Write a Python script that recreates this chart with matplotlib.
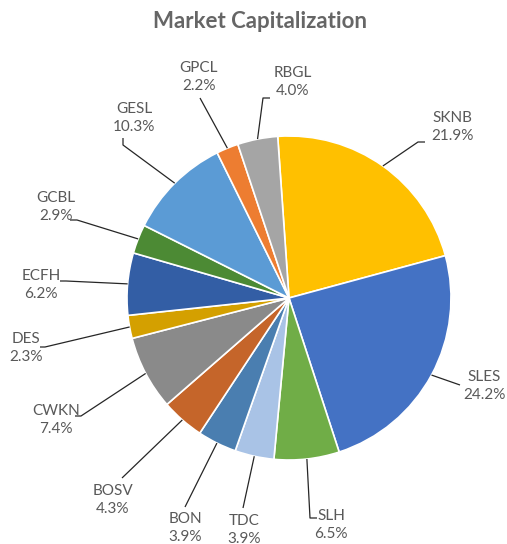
import numpy as np
import matplotlib
matplotlib.use("Agg")
from matplotlib import pyplot as plt

# data
names = ["SKNB", "SLES", "SLH", "TDC", "BON", "BOSV", "CWKN", "DES",
         "ECFH", "GCBL", "GESL", "GPCL", "RBGL"]
shares = [21.9, 24.2, 6.5, 3.9, 3.9, 4.3, 7.4, 2.3, 6.2, 2.9, 10.3, 2.2, 4.0]
colors = ["#FFC000", "#4472C4", "#70AD47", "#A9C3E6", "#4A7EB0", "#C5652A",
          "#8A8A8A", "#D4A000", "#335EA5", "#4C8A34", "#5B9BD5", "#ED7D31",
          "#A5A5A5"]

W, H = 507, 544
CX, CY, R = 289, 298, 162
START = 94

# label centre (px) and leader end (px), plus an optional short tick end
label_pos = {
    "SKNB": (452, 127), "SLES": (484, 386), "SLH": (331, 525),
    "TDC": (244, 530), "BON": (185, 528), "BOSV": (113, 500),
    "CWKN": (56, 420), "DES": (26, 348), "ECFH": (41, 285),
    "GCBL": (56, 207), "GESL": (134, 118), "GPCL": (199, 77),
    "RBGL": (293, 82),
}
leader_end = {
    "SKNB": [(418, 142), (425, 142)], "SLES": [(460, 385)],
    "SLH": [(310, 518), (317, 518)], "TDC": [(243, 508)],
    "BON": [(185, 507)], "BOSV": [(122, 478)],
    "CWKN": [(81, 416), (75, 416)], "DES": [(45, 347), (40, 347)],
    "ECFH": [(66, 281), (60, 281)], "GCBL": [(77, 220), (70, 220)],
    "GESL": [(123, 145), (123, 138)], "GPCL": [(200, 98)],
    "RBGL": [(263, 98), (270, 98)],
}


def px(x, y):
    return x, H - y


fig = plt.figure(figsize=(W / 100, H / 100), dpi=100)
ax = fig.add_axes([0, 0, 1, 1])

wedges, _ = ax.pie(shares, colors=colors, startangle=START, counterclock=False,
                   center=px(CX, CY), radius=R, frame=True,
                   wedgeprops=dict(edgecolor="white", linewidth=1.2))
ax.set_xlim(0, W)
ax.set_ylim(0, H)
ax.set_aspect("equal")
ax.axis("off")

txt_color = "#595959"
for w, name, val in zip(wedges, names, shares):
    mid = np.deg2rad((w.theta1 + w.theta2) / 2)
    sx = CX + R * np.cos(mid)
    sy = CY - R * np.sin(mid)
    pts = [(sx, sy)] + leader_end[name]
    xs = [p[0] for p in pts]
    ys = [H - p[1] for p in pts]
    ax.plot(xs, ys, color="#262626", lw=0.9, solid_capstyle="butt")
    lx, ly = label_pos[name]
    ax.text(*px(lx, ly), "%s\n%.1f%%" % (name, val), ha="center", va="center",
            fontsize=11, color=txt_color, family=["Lato", "DejaVu Sans"],
            linespacing=1.4)

ax.text(*px(260, 22), "Market Capitalization", ha="center", va="center",
        fontsize=16, fontweight="bold", color="#666666",
        family=["Lato", "DejaVu Sans"])

fig.savefig("out.png", dpi=100)
